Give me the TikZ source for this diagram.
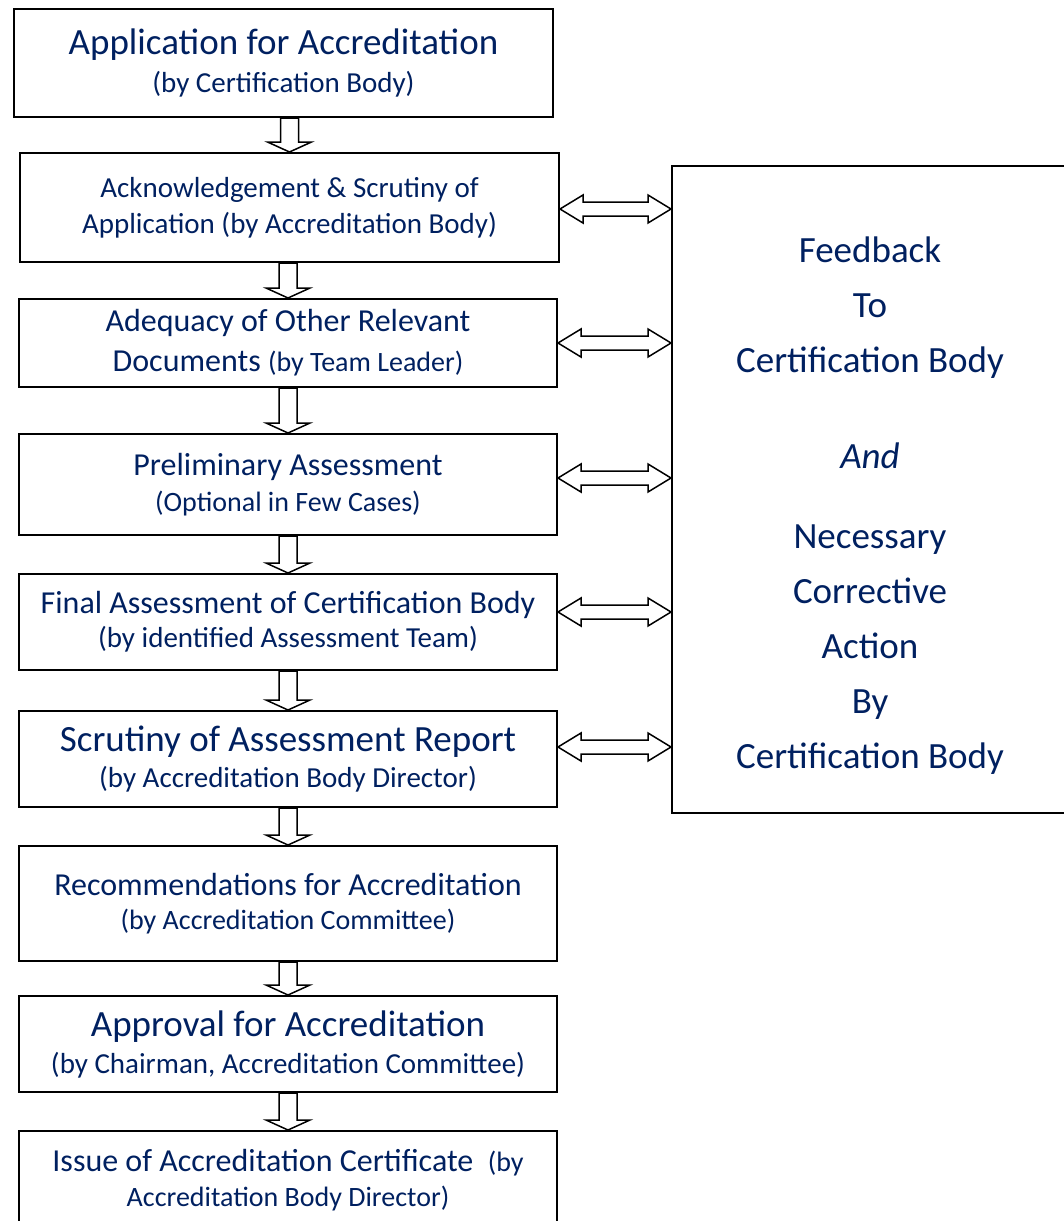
\documentclass[tikz,border=0pt]{standalone}
\usepackage{fontspec}
\setmainfont{Carlito}
\usetikzlibrary{calc}
\definecolor{navy}{RGB}{0,32,96}
\tikzset{
  stage/.style={draw, line width=1pt, minimum width=269pt, inner sep=0pt, align=center, text=navy},
  blockarrow/.style={draw, line width=0.75pt, fill=white, line join=miter},
}
\newcommand{\subtxt}{\fontsize{14.5pt}{18pt}\selectfont}
\newcommand{\smalltxt}{\fontsize{14pt}{18pt}\selectfont}
\begin{document}
\begin{tikzpicture}[x=0.5pt,y=-0.5pt]
\useasboundingbox (0,0) rectangle (1064,1221);

% process stages
\node[stage, minimum width=269.5pt, minimum height=54pt, font=\fontsize{18.5pt}{19pt}\selectfont] (a1) at (283.5,63)
  {Application for Accreditation\\{\subtxt (by Certification Body)}};
\node[stage, minimum width=269.5pt, minimum height=54.5pt, font=\fontsize{14.5pt}{18pt}\selectfont] (a2) at (289.5,207.5)
  {Acknowledgement \& Scrutiny of\\Application (by Accreditation Body)};
\node[stage, minimum height=44pt, font=\fontsize{16pt}{20pt}\selectfont] (a3) at (288,343)
  {Adequacy of Other Relevant\\Documents {\smalltxt (by Team Leader)}};
\node[stage, minimum height=50.5pt, font=\fontsize{16pt}{18pt}\selectfont] (a4) at (288,484.5)
  {Preliminary Assessment\\{\smalltxt (Optional in Few Cases)}};
\node[stage, minimum height=48pt, font=\fontsize{16pt}{17pt}\selectfont] (a5) at (288,622)
  {Final Assessment of Certification Body\\{\subtxt (by identified Assessment Team)}};
\node[stage, minimum height=48pt, font=\fontsize{18.5pt}{18pt}\selectfont] (a6) at (288,759)
  {Scrutiny of Assessment Report\\{\subtxt (by Accreditation Body Director)}};
\node[stage, minimum height=57.5pt, font=\fontsize{16pt}{17pt}\selectfont] (a7) at (288,903.5)
  {Recommendations for Accreditation\\{\smalltxt (by Accreditation Committee)}};
\node[stage, minimum height=48pt, font=\fontsize{18.5pt}{18.5pt}\selectfont] (a8) at (288,1044)
  {Approval for Accreditation\\{\subtxt (by Chairman, Accreditation Committee)}};
\node[stage, minimum height=49pt, font=\fontsize{16pt}{17.5pt}\selectfont] (a9) at (288,1180)
  {Issue of Accreditation Certificate \ {\smalltxt(by}\\{\smalltxt Accreditation Body Director)}};

% feedback box
\node[draw, line width=1pt, minimum width=198pt, minimum height=323.5pt, inner sep=0pt] (fb) at (870,489.5) {};
\node[text=navy, align=center, inner sep=0pt, font=\fontsize{18.5pt}{27.5pt}\selectfont] (fbtxt) at (870,505.5)
  {Feedback\\To\\Certification Body\\[20.5pt]\textit{And}\\[12.5pt]Necessary\\Corrective\\Action\\By\\Certification Body};

% down arrows
\foreach \a/\b in {a1/a2,a2/a3,a3/a4,a4/a5,a5/a6,a6/a7,a7/a8,a8/a9}
  \draw[blockarrow] ($(\a.south -| \b.north)+(-9,0)$) -- ($(\b.north)+(-9,-10)$) -- ($(\b.north)+(-22,-10)$)
    -- (\b.north) -- ($(\b.north)+(22,-10)$) -- ($(\b.north)+(9,-10)$) -- ($(\a.south -| \b.north)+(9,0)$) -- cycle;

% two-way arrows to the feedback box
\foreach \a/\y in {a2/209,a3/343,a4/478,a5/612,a6/747} {
  \path (0,\y) coordinate (yy);
  \coordinate (p) at (\a.east |- yy);
  \coordinate (q) at (fb.west |- yy);
  \draw[blockarrow] (p) -- ($(p)+(23,-14)$) -- ($(p)+(23,-7)$) -- ($(q)+(-23,-7)$) -- ($(q)+(-23,-14)$)
    -- (q) -- ($(q)+(-23,14)$) -- ($(q)+(-23,7)$) -- ($(p)+(23,7)$) -- ($(p)+(23,14)$) -- cycle;
}
\end{tikzpicture}
\end{document}
